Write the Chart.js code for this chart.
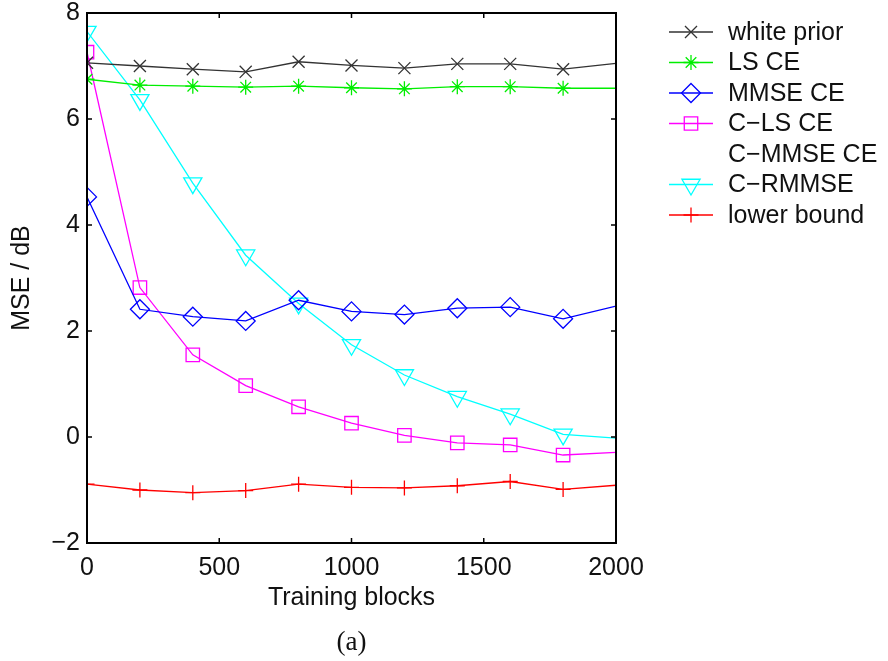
<!DOCTYPE html>
<html>
<head>
<meta charset="utf-8">
<script src="https://cdn.jsdelivr.net/npm/chart.js@4/dist/chart.umd.min.js"></script>
<style>
  html, body { margin: 0; padding: 0; background: #fff; }
  #wrap { width: 888px; height: 661px; position: relative; }
</style>
</head>
<body>
<div id="wrap"><canvas id="chart" width="888" height="661"></canvas></div>
<script>
const blocks = [0, 200, 400, 600, 800, 1000, 1200, 1400, 1600, 1800, 2000];

const whitePrior = [7.06, 7.00, 6.94, 6.89, 7.08, 7.01, 6.96, 7.04, 7.04, 6.94, 7.05];
const lsCE       = [6.75, 6.64, 6.62, 6.60, 6.62, 6.59, 6.57, 6.61, 6.61, 6.58, 6.58];
const mmseCE     = [4.53, 2.41, 2.27, 2.19, 2.58, 2.37, 2.31, 2.43, 2.45, 2.23, 2.47];
const clsCE      = [7.26, 2.82, 1.55, 0.97, 0.57, 0.26, 0.03, -0.11, -0.15, -0.34, -0.29];
const crmmse     = [7.65, 6.36, 4.79, 3.43, 2.52, 1.74, 1.17, 0.76, 0.43, 0.05, -0.02];
const lowerBound = [-0.89, -1.00, -1.05, -1.01, -0.89, -0.95, -0.96, -0.92, -0.84, -0.99, -0.91];

const xTicks = [0, 500, 1000, 1500, 2000];
const yTicks = [-2, 0, 2, 4, 6, 8];

// legend entries (C-MMSE CE has no visible line in the original)
const legendLabels = ['white prior', 'LS CE', 'MMSE CE', 'C\u2212LS CE', 'C\u2212MMSE CE', 'C\u2212RMMSE', 'lower bound'];

const series = [
  { label: 'white prior', data: whitePrior, color: '#333333', style: 'crossRot', r: 8.5, rot: 0 },
  { label: 'LS CE', data: lsCE, color: '#00ee00', style: 'star', r: 7.5, rot: 0 },
  { label: 'MMSE CE', data: mmseCE, color: '#0000ff', style: 'rectRot', r: 9.5, rot: 0 },
  { label: 'C\u2212LS CE', data: clsCE, color: '#ff00ff', style: 'rect', r: 9.5, rot: 0 },
  { label: 'C\u2212RMMSE', data: crmmse, color: '#00ffff', style: 'triangle', r: 10.5, rot: 180 },
  { label: 'lower bound', data: lowerBound, color: '#ff0000', style: 'cross', r: 7.5, rot: 0 }
];

const legendMap = { 0: 0, 1: 1, 2: 2, 3: 3, 5: 4, 6: 5 };

const FONT = 'Liberation Sans, Arial, sans-serif';

function drawMarker(ctx, style, r, x, y, rot) {
  ctx.beginPath();
  if (style === 'crossRot') {
    const d = r * Math.SQRT1_2;
    ctx.moveTo(x - d, y - d); ctx.lineTo(x + d, y + d);
    ctx.moveTo(x - d, y + d); ctx.lineTo(x + d, y - d);
  } else if (style === 'cross') {
    ctx.moveTo(x - r, y); ctx.lineTo(x + r, y);
    ctx.moveTo(x, y - r); ctx.lineTo(x, y + r);
  } else if (style === 'star') {
    const d = r * Math.SQRT1_2;
    ctx.moveTo(x - r, y); ctx.lineTo(x + r, y);
    ctx.moveTo(x, y - r); ctx.lineTo(x, y + r);
    ctx.moveTo(x - d, y - d); ctx.lineTo(x + d, y + d);
    ctx.moveTo(x - d, y + d); ctx.lineTo(x + d, y - d);
  } else if (style === 'rectRot') {
    ctx.moveTo(x, y - r); ctx.lineTo(x + r, y); ctx.lineTo(x, y + r); ctx.lineTo(x - r, y); ctx.closePath();
  } else if (style === 'rect') {
    const s = r * Math.SQRT1_2;
    ctx.rect(x - s, y - s, 2 * s, 2 * s);
  } else if (style === 'triangle') {
    const h = rot === 180 ? -1 : 1;
    ctx.moveTo(x, y - h * r);
    ctx.lineTo(x + r * Math.sin(Math.PI * 2 / 3), y + h * r / 2);
    ctx.lineTo(x - r * Math.sin(Math.PI * 2 / 3), y + h * r / 2);
    ctx.closePath();
  }
  ctx.stroke();
}

// box, inward ticks, legend and caption
const decorPlugin = {
  id: 'decor',
  afterDraw(chart) {
    const { ctx, chartArea: a, scales } = chart;
    const tl = 5;
    ctx.save();
    ctx.strokeStyle = '#000';
    ctx.lineWidth = 1.5;
    ctx.beginPath();
    xTicks.forEach(v => {
      const px = scales.x.getPixelForValue(v);
      ctx.moveTo(px, a.bottom); ctx.lineTo(px, a.bottom - tl);
      ctx.moveTo(px, a.top); ctx.lineTo(px, a.top + tl);
    });
    yTicks.forEach(v => {
      const py = scales.y.getPixelForValue(v);
      ctx.moveTo(a.left, py); ctx.lineTo(a.left + tl, py);
      ctx.moveTo(a.right, py); ctx.lineTo(a.right - tl, py);
    });
    ctx.stroke();
    ctx.lineWidth = 2;
    ctx.strokeRect(a.left, a.top, a.right - a.left, a.bottom - a.top);

    // legend
    const lx0 = 669, lx1 = 713, tx = 728;
    ctx.font = '25px ' + FONT;
    ctx.textBaseline = 'middle';
    ctx.textAlign = 'left';
    legendLabels.forEach((lab, i) => {
      const y = 32 + i * 30.5;
      const si = legendMap[i];
      if (si !== undefined) {
        const s = series[si];
        ctx.strokeStyle = s.color;
        ctx.lineWidth = 1.3;
        ctx.beginPath(); ctx.moveTo(lx0, y); ctx.lineTo(lx1, y); ctx.stroke();
        drawMarker(ctx, s.style, s.r, (lx0 + lx1) / 2, y, s.rot);
      }
      ctx.fillStyle = '#111';
      ctx.fillText(lab, tx, y + 1);
    });

    // caption
    ctx.font = '27px Liberation Serif, DejaVu Serif, serif';
    ctx.textAlign = 'center';
    ctx.fillStyle = '#111';
    ctx.fillText('(a)', (a.left + a.right) / 2, 643);
    ctx.restore();
  }
};

const last = blocks.length - 1;

const datasets = series.map(s => ({
  label: s.label,
  data: blocks.map((b, i) => ({ x: b, y: s.data[i] })),
  borderColor: s.color,
  backgroundColor: 'transparent',
  borderWidth: 1.3,
  pointStyle: s.style,
  pointRotation: s.rot,
  pointRadius: c => (c.dataIndex === last ? 0 : s.r),
  pointBorderColor: s.color,
  pointBackgroundColor: 'transparent',
  pointBorderWidth: 1.3,
  pointHoverRadius: c => (c.dataIndex === last ? 0 : s.r),
  tension: 0
}));

new Chart(document.getElementById('chart'), {
  type: 'line',
  data: { datasets },
  options: {
    responsive: false,
    animation: false,
    layout: { padding: { left: 0, top: 13, right: 272, bottom: 48 } },
    plugins: {
      legend: { display: false },
      tooltip: { enabled: false },
      title: { display: false }
    },
    scales: {
      x: {
        type: 'linear',
        min: 0,
        max: 2000,
        afterBuildTicks: s => { s.ticks = xTicks.map(v => ({ value: v })); },
        afterFit: s => { s.height = 70; s.paddingLeft = 0; s.paddingRight = 0; },
        grid: { display: false, drawTicks: false },
        border: { display: false },
        ticks: {
          color: '#111',
          font: { family: FONT, size: 25 },
          padding: 10,
          maxRotation: 0,
          callback: v => String(v)
        },
        title: { display: true, text: 'Training blocks', color: '#111', font: { family: FONT, size: 25 }, padding: { top: 0, bottom: 0 } }
      },
      y: {
        type: 'linear',
        min: -2,
        max: 8,
        afterBuildTicks: s => { s.ticks = yTicks.map(v => ({ value: v })); },
        afterFit: s => { s.width = 87; s.paddingTop = 0; s.paddingBottom = 0; },
        grid: { display: false, drawTicks: false },
        border: { display: false },
        ticks: {
          color: '#111',
          font: { family: FONT, size: 25 },
          padding: 7,
          callback: v => (v < 0 ? '\u2212' + Math.abs(v) : String(v))
        },
        title: { display: true, text: 'MSE / dB', color: '#111', font: { family: FONT, size: 25 }, padding: { top: 7, bottom: 7 } }
      }
    }
  },
  plugins: [decorPlugin]
});
</script>
</body>
</html>
